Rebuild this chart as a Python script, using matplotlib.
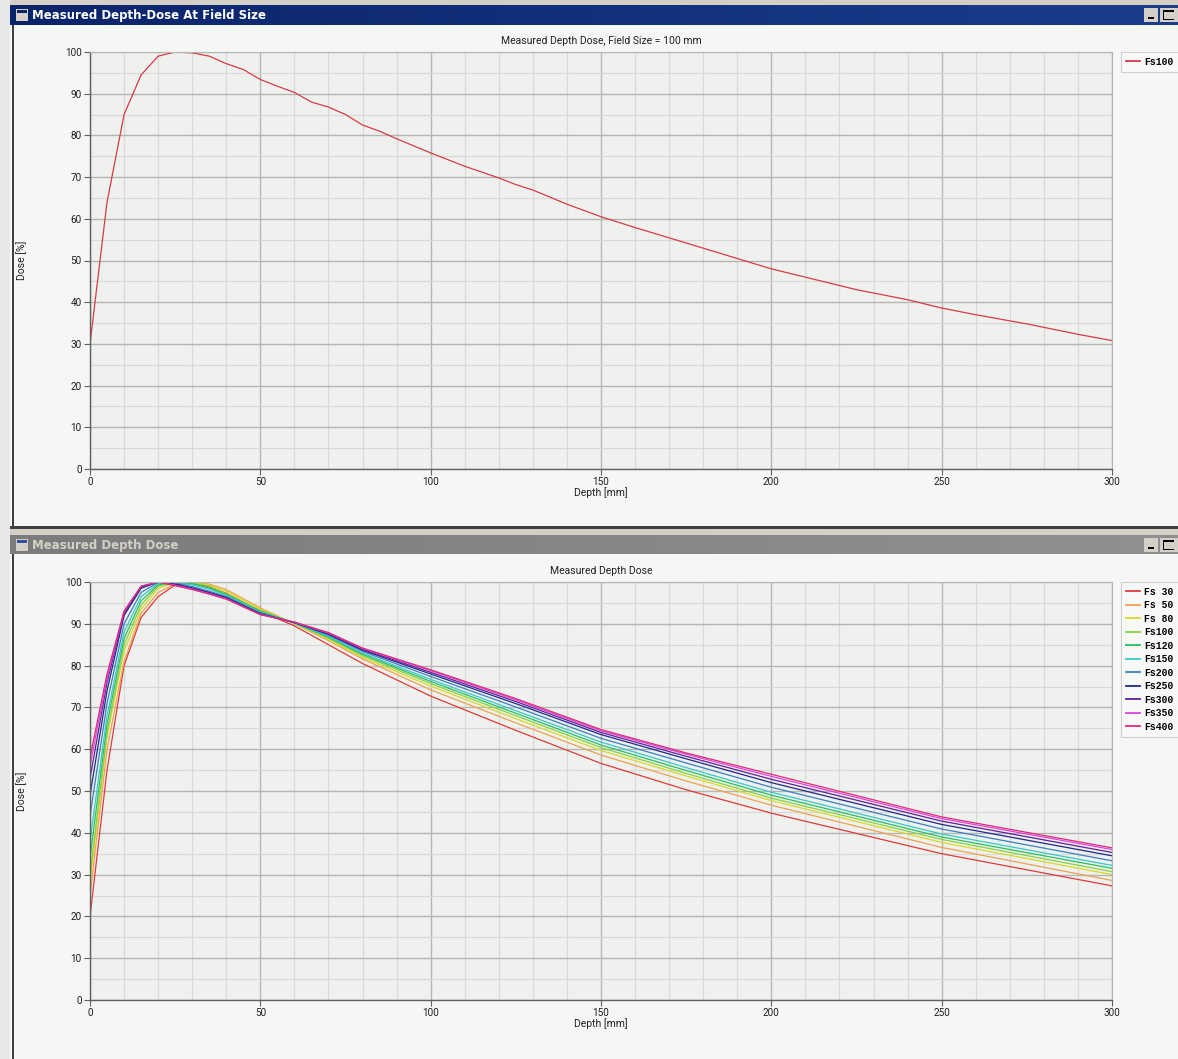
import numpy as np
import matplotlib
matplotlib.use("Agg")
import matplotlib.pyplot as plt
from matplotlib.patches import Rectangle
from matplotlib.ticker import MultipleLocator
from matplotlib.colors import LinearSegmentedColormap

W, H = 1178, 1059

# ---------------- data ----------------
depth = [0, 5, 10, 15, 20, 25, 30, 35, 40, 50, 60, 70, 80, 100, 125, 150, 175, 200, 250, 300]

field_labels = ["Fs 30", "Fs 50", "Fs 80", "Fs100", "Fs120", "Fs150",
                "Fs200", "Fs250", "Fs300", "Fs350", "Fs400"]

fs30  = [20, 55, 80, 91.5, 96.5, 99.3, 99.8, 98.8, 97.3, 93.0, 89.5, 85.0, 80.5, 72.7, 64.5, 56.6, 50.3, 44.7, 35.0, 27.3]
fs50  = [25, 60, 81, 92.5, 97.5, 99.5, 100, 99.5, 98.2, 93.8, 90.0, 86.0, 81.6, 74.2, 66.3, 58.6, 52.4, 46.6, 36.5, 28.6]
fs80  = [28, 63, 83.5, 93.5, 98.5, 99.8, 100, 99.2, 97.8, 93.5, 90.1, 86.3, 82.0, 75.1, 67.3, 59.7, 53.6, 47.7, 37.7, 30.0]
fs100 = [30, 64, 85, 94.5, 99, 100, 99.8, 99.0, 97.2, 93.2, 90.1, 86.6, 82.4, 75.7, 68.0, 60.4, 54.2, 48.3, 38.4, 30.7]
fs120 = [34, 66, 86.5, 95.5, 99.3, 100, 99.6, 98.6, 97.0, 93.0, 90.2, 86.8, 82.7, 76.2, 68.6, 61.0, 54.9, 49.0, 39.0, 31.5]
fs150 = [38, 68, 88, 96.5, 99.6, 100, 99.3, 98.3, 96.8, 92.8, 90.2, 87.0, 83.0, 76.7, 69.2, 61.7, 55.6, 49.7, 39.7, 32.2]
fs200 = [44, 71, 90, 97.5, 99.9, 99.8, 98.9, 97.8, 96.5, 92.6, 90.3, 87.3, 83.4, 77.4, 70.1, 62.6, 56.7, 50.9, 40.9, 33.3]
fs250 = [49, 74, 92, 98.5, 100, 99.5, 98.6, 97.5, 96.3, 92.4, 90.3, 87.5, 83.7, 78.0, 70.9, 63.5, 57.7, 52.0, 42.0, 34.5]
fs300 = [53, 76, 92.5, 98.8, 100, 99.3, 98.4, 97.3, 96.1, 92.3, 90.3, 87.7, 83.9, 78.4, 71.4, 64.0, 58.3, 52.8, 42.8, 35.3]
fs350 = [56, 77, 93, 99, 100, 99.2, 98.3, 97.2, 96.0, 92.2, 90.4, 87.8, 84.1, 78.8, 71.8, 64.4, 58.8, 53.5, 43.4, 36.0]
fs400 = [58, 78, 93, 99, 100, 99.1, 98.2, 97.1, 95.9, 92.2, 90.4, 87.9, 84.2, 79.0, 72.1, 64.7, 59.1, 54.0, 43.8, 36.4]

top_depth = [0, 5, 10, 15, 20, 25, 30, 35, 40, 45, 50, 55, 60, 65, 70, 75, 80, 85, 90, 100, 110, 120, 125, 130,
             140, 150, 160, 175, 200, 225, 240, 250, 260, 275, 290, 300]
top_fs100 = [30, 64, 85, 94.5, 99, 100, 99.8, 99.0, 97.2, 95.8, 93.4, 91.8, 90.3, 88.0, 86.8, 85.0, 82.5, 81.0, 79.2,
             75.8, 72.6, 69.8, 68.2, 66.9, 63.5, 60.5, 57.9, 54.2, 48.0, 43.0, 40.6, 38.6, 37.0, 34.8, 32.3, 30.8]

series = [fs30, fs50, fs80, fs100, fs120, fs150, fs200, fs250, fs300, fs350, fs400]
colors = ["#e03a3a", "#f0a050", "#d8d828", "#88d040", "#28c060", "#38c8c8",
          "#3a80c0", "#202888", "#602098", "#e040e0", "#e02878"]

xticks = [0, 50, 100, 150, 200, 250, 300]
yticks = list(range(0, 101, 10))

FONT = "Roboto"

# ---------------- figure & chrome ----------------
fig = plt.figure(figsize=(W / 100, H / 100), dpi=100)
fig.patch.set_facecolor("#f4f7f4")


def rect(x0, y0, x1, y1, color, z=0):
    fig.add_artist(Rectangle((x0 / W, 1 - y1 / H), (x1 - x0) / W, (y1 - y0) / H,
                             transform=fig.transFigure, facecolor=color,
                             edgecolor="none", zorder=z))


def gradient_bar(x0, y0, x1, y1, c0, c1):
    ax = fig.add_axes([x0 / W, 1 - y1 / H, (x1 - x0) / W, (y1 - y0) / H])
    g = np.linspace(0, 1, 256)[None, :]
    cmap = LinearSegmentedColormap.from_list("g", [c0, c1])
    ax.imshow(g, aspect="auto", cmap=cmap, extent=[0, 1, 0, 1])
    ax.set_axis_off()
    return ax


# screen edges
rect(0, 0, W, 5, "#d4d0c8")
rect(0, 0, 10, H, "#e8e8e8")
# top window
gradient_bar(10, 5, W, 25, "#0a246a", "#1a3e8c")
rect(12, 25, 14, 528, "#404040", 1)
rect(10, 526, W, 529, "#404040", 1)
rect(10, 529, W, 535, "#d4d0c8", 1)
# bottom window
gradient_bar(10, 535, W, 554, "#7c7c7c", "#909090")
rect(12, 554, 14, H, "#404040", 1)

# title texts
fig.text(32 / W, 1 - 15 / H, "Measured Depth-Dose At Field Size", color="white",
         fontsize=8.5, fontweight="bold", family="DejaVu Sans", va="center")
fig.text(32 / W, 1 - 545 / H, "Measured Depth Dose", color="#d4d0c8",
         fontsize=8.5, fontweight="bold", family="DejaVu Sans", va="center")

# title icons and buttons
for yc in (15, 545):
    rect(16, yc - 6, 28, yc + 6, "#d4d0c8", 3)
    rect(17, yc - 5, 27, yc - 2, "#0a246a" if yc < 100 else "#3050a0", 4)
    rect(1144, yc - 7, 1158, yc + 7, "#d4d0c8", 3)
    rect(1160, yc - 7, W, yc + 7, "#d4d0c8", 3)
    rect(1148, yc + 2, 1154, yc + 4, "#000000", 4)
    rect(1163, yc - 5, 1174, yc - 3, "#000000", 4)
    rect(1163, yc - 5, 1164, yc + 5, "#000000", 4)
    rect(1163, yc + 4, 1174, yc + 5, "#000000", 4)


def style_axes(ax, title):
    ax.set_facecolor("#eef1ee")
    ax.set_xlim(0, 300)
    ax.set_ylim(0, 100)
    ax.xaxis.set_minor_locator(MultipleLocator(10))
    ax.yaxis.set_minor_locator(MultipleLocator(5))
    ax.set_xticks(xticks)
    ax.set_yticks(yticks)
    ax.grid(which="major", color="#b4b6b4", linewidth=1.0)
    ax.grid(which="minor", color="#d8dad8", linewidth=0.9)
    ax.set_axisbelow(True)
    ax.tick_params(which="major", length=4, width=0.8, color="#606060",
                   labelsize=7.2, labelcolor="#202020", pad=2)
    ax.tick_params(which="minor", length=0)
    for lab in ax.get_xticklabels() + ax.get_yticklabels():
        lab.set_family(FONT)
    for s in ["top", "right"]:
        ax.spines[s].set_color("#b4b6b4")
    for s in ["left", "bottom"]:
        ax.spines[s].set_color("#606060")
        ax.spines[s].set_linewidth(1.0)
    ax.set_title(title, fontsize=7.5, family=FONT, pad=6, color="#202020")
    ax.set_xlabel("Depth [mm]", fontsize=7.5, family=FONT, color="#202020")
    ax.xaxis.set_label_coords(0.5, -0.043)
    ax.set_ylabel("Dose [%]", fontsize=7.5, family=FONT, color="#202020")
    ax.yaxis.set_label_coords(-0.062, 0.5)


ax1 = fig.add_axes([90 / W, 1 - 469 / H, 1022 / W, 417 / H])
ax1.plot(top_depth, top_fs100, color="#d83a48", linewidth=0.9, label="Fs100")
style_axes(ax1, "Measured Depth Dose, Field Size = 100 mm")

ax2 = fig.add_axes([90 / W, 1 - 1000 / H, 1022 / W, 418 / H])
for vals, col, lab in zip(series, colors, field_labels):
    ax2.plot(depth, vals, color=col, linewidth=0.9, label=lab)
style_axes(ax2, "Measured Depth Dose")

for ax in (ax1, ax2):
    bb = ax.get_position()
    leg = ax.legend(loc="upper left", bbox_to_anchor=(1121 / W, bb.y1),
                    bbox_transform=fig.transFigure,
                    prop={"family": "Liberation Mono", "weight": "bold", "size": 7.0},
                    frameon=True, fancybox=False, borderpad=0.5, labelspacing=0.36,
                    handlelength=1.5, handletextpad=0.4, borderaxespad=0)
    leg.get_frame().set_edgecolor("#c8c8c8")
    leg.get_frame().set_facecolor("#f8faf8")
    leg.get_frame().set_linewidth(0.8)
    for ln in leg.get_lines():
        ln.set_linewidth(1.3)

fig.savefig("out.png", dpi=100, facecolor=fig.get_facecolor())
